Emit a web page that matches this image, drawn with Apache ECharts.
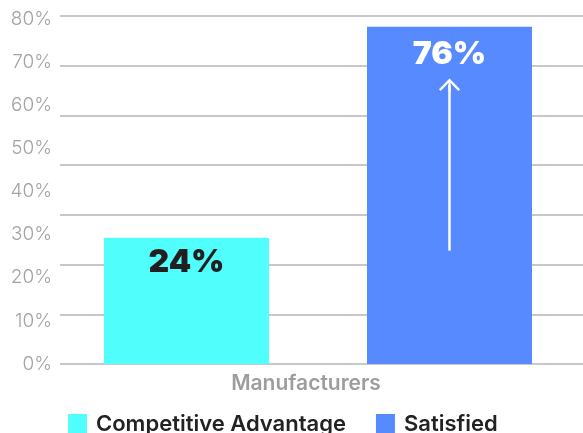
<!DOCTYPE html>
<html><head><meta charset="utf-8">
<script src="https://cdn.jsdelivr.net/npm/echarts@6/dist/echarts.min.js"></script>
<style>html,body{margin:0;padding:0;background:#fff}#c{width:583px;height:433px}</style>
</head><body><div id="c"></div>
<script>
const categories = ['Manufacturers'];
const seriesNames = ['Competitive Advantage', 'Satisfied'];
const advantageValues = [29.3];
const satisfiedValues = [78.2];
const barLabels = ['24%', '76%'];
const yTicks = ['0%','10%','20%','30%','40%','50%','60%','70%','80%'];
const arrowRange = [26.3, 64.7];

const FONT = 'Inter, "Open Sans", sans-serif';
const chart = echarts.init(document.getElementById('c'), null, {renderer: 'canvas'});
chart.setOption({
  animation: false,
  grid: [
    {left: 60, right: 0, top: 16, bottom: 69},
    {left: 58, right: 5, top: 19, bottom: 69}
  ],
  legend: {
    left: 63, top: 408, itemWidth: 19, itemHeight: 20, itemGap: 30,
    icon: 'rect',
    textStyle: {fontFamily: FONT, fontSize: 22, color: '#222', fontWeight: 600, padding: [0, 0, 6, 4]},
    data: seriesNames
  },
  xAxis: [
    {gridIndex: 0, type: 'value', show: false, min: 0, max: 1},
    {gridIndex: 1, type: 'category', data: categories,
     axisLine: {show: false}, axisTick: {show: false},
     axisLabel: {fontFamily: FONT, fontSize: 21, fontWeight: 600, color: '#9c9e9e', margin: 9, padding: [0, 24, 0, 0]}}
  ],
  yAxis: [
    {gridIndex: 0, type: 'value', min: 0, max: 7, interval: 1,
     axisLabel: {show: false}, axisLine: {show: false}, axisTick: {show: false},
     splitLine: {show: true, lineStyle: {color: '#b4b6b6', width: 1.5}}},
    {gridIndex: 1, type: 'value', min: 0, max: 80, interval: 10,
     axisLine: {show: false}, axisTick: {show: false}, splitLine: {show: false},
     axisLabel: {fontFamily: FONT, fontSize: 19, fontWeight: 300, color: '#a2a4a4', margin: 6,
       formatter: (v) => yTicks[Math.round(v / 10)]}}
  ],
  series: [
    {name: seriesNames[0], type: 'bar', xAxisIndex: 1, yAxisIndex: 1,
     data: advantageValues, barWidth: 165, barGap: '59.4%',
     itemStyle: {color: '#50fefc'},
     label: {show: true, position: 'insideTop', distance: 9, formatter: () => barLabels[0],
       fontFamily: FONT, fontSize: 32, fontWeight: 900, color: '#231f20'}},
    {name: seriesNames[1], type: 'bar', xAxisIndex: 1, yAxisIndex: 1,
     data: satisfiedValues, barWidth: 165, barGap: '59.4%',
     itemStyle: {color: '#578aff'},
     label: {show: true, position: 'insideTop', distance: 12, formatter: () => barLabels[1],
       fontFamily: FONT, fontSize: 32, fontWeight: 900, color: '#ffffff'},
     markLine: {
       silent: true, animation: false,
       symbol: ['none', 'path://M10,0 L20,10 L18.5,11.5 L11,4.2 L11,12 L9,12 L9,4.2 L1.5,11.5 L0,10 Z'],
       symbolSize: [21, 13],
       lineStyle: {color: '#ffffff', width: 2.5, type: 'solid'},
       label: {show: false},
       data: [[{coord: [0, arrowRange[0]]}, {coord: [0, arrowRange[1]]}]]
     }}
  ]
});
</script></body></html>
